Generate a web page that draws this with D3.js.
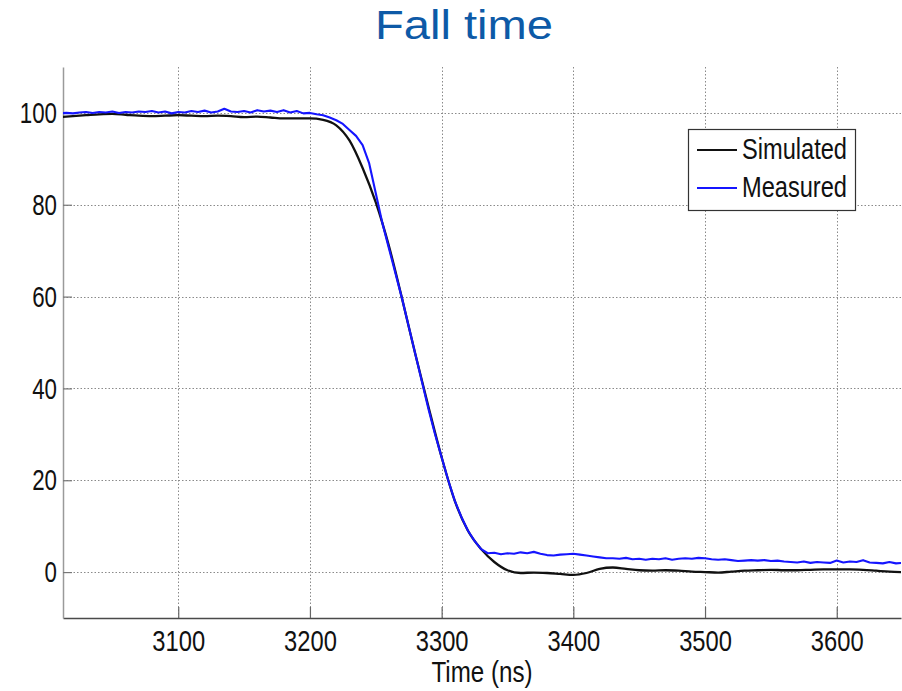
<!DOCTYPE html>
<html>
<head>
<meta charset="utf-8">
<script src="https://cdn.jsdelivr.net/npm/d3@7"></script>
<style>
  html, body { margin: 0; padding: 0; background: #fff; }
  svg { display: block; font-family: "Liberation Sans", Arial, sans-serif; }
</style>
</head>
<body>
<svg id="chart" width="902" height="691"></svg>
<script>
// Fall-time comparison: simulated vs. measured output (percent of full swing)
const titleText = "Fall time";
const xLabel = "Time (ns)";
const xTicks = [3100, 3200, 3300, 3400, 3500, 3600];
const yTicks = [0, 20, 40, 60, 80, 100];
const seriesNames = ["Simulated", "Measured"];

const simTime = [3010, 3020, 3030, 3040, 3050, 3060, 3070, 3080, 3090, 3100,
  3110, 3120, 3130, 3140, 3150, 3160, 3170, 3180, 3190, 3200,
  3210, 3220, 3230, 3240, 3250, 3260, 3270, 3280, 3290, 3300,
  3310, 3320, 3330, 3340, 3350, 3360, 3370, 3380, 3390, 3400,
  3410, 3420, 3430, 3440, 3450, 3460, 3470, 3480, 3490, 3500,
  3510, 3520, 3530, 3540, 3550, 3560, 3570, 3580, 3590, 3600,
  3610, 3620, 3630, 3640, 3650];
const simValue = [99.1, 99.3, 99.5, 99.7, 99.8, 99.6, 99.4, 99.3, 99.4, 99.5,
  99.4, 99.3, 99.4, 99.3, 99.1, 99.2, 99.0, 98.8, 98.8, 98.8,
  98.5, 97.3, 94.0, 88.0, 80.5, 71.0, 59.5, 47.5, 36.0, 25.0,
  15.5, 9.0, 5.0, 2.2, 0.4, -0.2, -0.1, -0.2, -0.4, -0.6,
  -0.2, 0.7, 1.0, 0.7, 0.4, 0.3, 0.4, 0.3, 0.1, 0.0,
  -0.1, 0.1, 0.3, 0.4, 0.5, 0.4, 0.4, 0.5, 0.6, 0.6,
  0.6, 0.5, 0.3, 0.1, 0.0];

const measTime = [3010, 3015, 3020, 3025, 3030, 3035, 3040, 3045, 3050, 3055,
  3060, 3065, 3070, 3075, 3080, 3085, 3090, 3095, 3100, 3105,
  3110, 3115, 3120, 3125, 3130, 3135, 3140, 3145, 3150, 3155,
  3160, 3165, 3170, 3175, 3180, 3185, 3190, 3195, 3200, 3205,
  3210, 3215, 3220, 3225, 3230, 3235, 3240, 3245, 3250, 3255,
  3260, 3265, 3270, 3275, 3280, 3285, 3290, 3295, 3300, 3305,
  3310, 3315, 3320, 3325, 3330, 3335, 3340, 3345, 3350, 3355,
  3360, 3365, 3370, 3375, 3380, 3385, 3390, 3395, 3400, 3405,
  3410, 3415, 3420, 3425, 3430, 3435, 3440, 3445, 3450, 3455,
  3460, 3465, 3470, 3475, 3480, 3485, 3490, 3495, 3500, 3505,
  3510, 3515, 3520, 3525, 3530, 3535, 3540, 3545, 3550, 3555,
  3560, 3565, 3570, 3575, 3580, 3585, 3590, 3595, 3600, 3605,
  3610, 3615, 3620, 3625, 3630, 3635, 3640, 3645, 3650];
const measValue = [99.9, 100.0, 99.9, 100.1, 100.2, 100.0, 100.2, 100.1, 100.3, 100.0,
  100.2, 100.1, 100.3, 100.2, 100.4, 100.1, 100.3, 99.9, 100.2, 100.1,
  100.4, 100.2, 100.5, 100.1, 100.3, 100.9, 100.3, 100.2, 100.4, 100.1,
  100.6, 100.3, 100.5, 100.2, 100.6, 100.1, 100.4, 99.9, 100.0, 99.7,
  99.5, 99.0, 98.4, 97.6, 96.3, 95.0, 93.0, 89.0, 82.5, 76.0,
  70.5, 65.0, 59.5, 53.5, 47.5, 41.5, 35.5, 30.0, 25.0, 20.0,
  15.5, 12.0, 9.0, 6.8, 5.0, 4.1, 4.2, 3.9, 4.1, 4.0,
  4.3, 4.1, 4.4, 4.0, 3.7, 3.6, 3.8, 3.9, 4.0, 3.8,
  3.6, 3.4, 3.2, 3.0, 3.0, 2.9, 3.1, 2.8, 2.9, 2.7,
  2.9, 2.8, 3.0, 2.7, 2.9, 3.0, 2.9, 3.1, 3.0, 2.8,
  2.7, 2.8, 2.6, 2.4, 2.5, 2.6, 2.5, 2.6, 2.4, 2.5,
  2.3, 2.2, 2.1, 2.3, 2.0, 2.2, 2.1, 2.0, 2.5, 2.1,
  2.3, 2.2, 2.6, 2.1, 2.0, 1.9, 2.2, 1.9, 2.0];

const simulated = simTime.map((t, i) => ({ t, v: simValue[i] }));
const measured = measTime.map((t, i) => ({ t, v: measValue[i] }));

const svg = d3.select("#chart");
const plot = { left: 63, right: 901, top: 67, bottom: 618 };

const x = d3.scaleLinear().domain([3012.5, 3648.8]).range([plot.left, plot.right]);
const y = d3.scaleLinear().domain([-10, 110]).range([plot.bottom, plot.top]);

// condensed label widths (per digit, at 30px)
const digitW = 13.2;

// title
svg.append("text")
  .attr("x", 464).attr("y", 39)
  .attr("text-anchor", "middle")
  .attr("font-size", 40)
  .attr("fill", "#0d5aa7")
  .attr("textLength", 178).attr("lengthAdjust", "spacingAndGlyphs")
  .text(titleText);

svg.append("defs").append("clipPath").attr("id", "plotClip")
  .append("rect")
  .attr("x", plot.left).attr("y", plot.top)
  .attr("width", plot.right - plot.left).attr("height", plot.bottom - plot.top);

// dotted grid
const grid = svg.append("g").attr("stroke", "#8a8a8a").attr("stroke-width", 1)
  .attr("stroke-dasharray", "1.5,2");
grid.selectAll("line.v").data(xTicks).join("line")
  .attr("x1", d => Math.round(x(d)) + 0.5).attr("x2", d => Math.round(x(d)) + 0.5)
  .attr("y1", plot.top).attr("y2", plot.bottom);
grid.selectAll("line.h").data(yTicks).join("line")
  .attr("y1", d => Math.round(y(d)) + 0.5).attr("y2", d => Math.round(y(d)) + 0.5)
  .attr("x1", plot.left).attr("x2", plot.right);

// axes with inward ticks
const xAxis = svg.append("g")
  .attr("transform", `translate(0,${plot.bottom})`)
  .call(d3.axisBottom(x).tickValues(xTicks).tickFormat(d3.format("d"))
    .tickSizeInner(-11).tickSizeOuter(0).tickPadding(12));
xAxis.select(".domain").attr("stroke", "#4a4a4a").attr("stroke-width", 1.5);
xAxis.selectAll(".tick line").attr("stroke", "#666").attr("stroke-width", 1.2);
xAxis.selectAll(".tick text")
  .attr("font-size", 30).attr("fill", "#111")
  .attr("font-family", "Liberation Sans, Arial, sans-serif")
  .attr("textLength", d => String(d).length * digitW)
  .attr("lengthAdjust", "spacingAndGlyphs");

const yAxis = svg.append("g")
  .attr("transform", `translate(${plot.left},0)`)
  .call(d3.axisLeft(y).tickValues(yTicks).tickFormat(d3.format("d"))
    .tickSizeInner(-9).tickSizeOuter(0).tickPadding(6));
yAxis.select(".domain").attr("stroke", "#9a9a9a").attr("stroke-width", 1.5);
yAxis.selectAll(".tick line").attr("stroke", "#777").attr("stroke-width", 1.2);
yAxis.selectAll(".tick text")
  .attr("font-size", 30).attr("fill", "#111")
  .attr("font-family", "Liberation Sans, Arial, sans-serif")
  .attr("textLength", d => String(d).length * 12.4)
  .attr("lengthAdjust", "spacingAndGlyphs");

// x-axis title
svg.append("text")
  .attr("x", 482).attr("y", 682)
  .attr("text-anchor", "middle")
  .attr("font-size", 30).attr("fill", "#111")
  .attr("textLength", 101).attr("lengthAdjust", "spacingAndGlyphs")
  .text(xLabel);

// series
const line = d3.line().x(d => x(d.t)).y(d => y(d.v)).curve(d3.curveMonotoneX);
const series = svg.append("g").attr("clip-path", "url(#plotClip)");
series.append("path").datum(simulated)
  .attr("fill", "none").attr("stroke", "#111").attr("stroke-width", 2.3)
  .attr("stroke-linejoin", "round").attr("d", line);
series.append("path").datum(measured)
  .attr("fill", "none").attr("stroke", "#1515ff").attr("stroke-width", 2.1)
  .attr("stroke-linejoin", "round").attr("d", line.curve(d3.curveLinear));

// legend
const legend = svg.append("g");
legend.append("rect")
  .attr("x", 688.5).attr("y", 129.5).attr("width", 167).attr("height", 81)
  .attr("fill", "#fff").attr("stroke", "#333").attr("stroke-width", 1.2);
const legendColors = ["#111", "#1515ff"];
seriesNames.forEach((name, i) => {
  const cy = 150 + i * 38;
  legend.append("line")
    .attr("x1", 697).attr("x2", 737).attr("y1", cy).attr("y2", cy)
    .attr("stroke", legendColors[i]).attr("stroke-width", 2);
  legend.append("text")
    .attr("x", 742).attr("y", cy + 9)
    .attr("font-size", 29).attr("fill", "#111")
    .attr("textLength", 105).attr("lengthAdjust", "spacingAndGlyphs")
    .text(name);
});
</script>
</body>
</html>
